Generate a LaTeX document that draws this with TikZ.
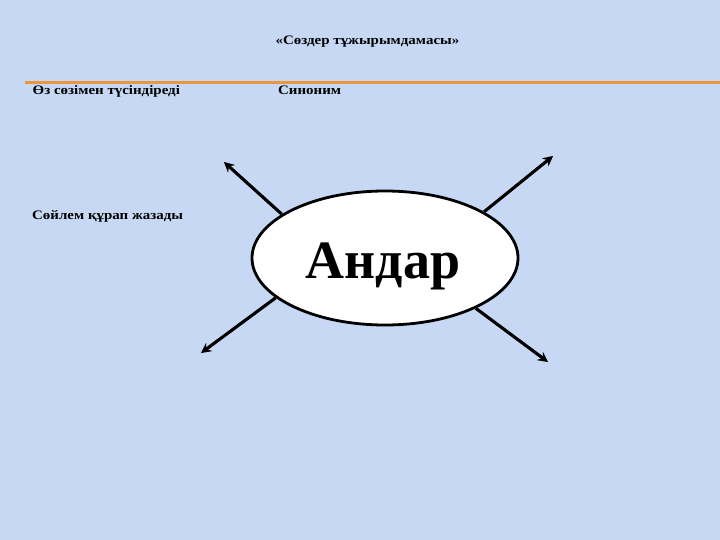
\documentclass[tikz,border=0pt]{standalone}
\usepackage{fontspec}
\usepackage{graphicx}
\setmainfont{Liberation Serif}
\usetikzlibrary{shapes.geometric,arrows.meta,calc}
\definecolor{bgblue}{RGB}{199,216,244}
\definecolor{lineorange}{RGB}{235,150,60}
\definecolor{shadowgray}{RGB}{120,120,125}
\pgfdeclarehorizontalshading{orangerule}{100bp}{color(0bp)=(bgblue); color(4bp)=(lineorange); color(92bp)=(lineorange); color(100bp)=(lineorange!45!bgblue)}
\newcommand{\widetext}[1]{\scalebox{1.15}[1]{#1}}
\tikzset{
  lbl/.style={font=\fontsize{13}{15}\selectfont\bfseries, inner sep=0pt, anchor=base west},
  arr/.style={line width=3pt, -{Stealth[length=10pt,width=10pt,inset=3.5pt]}, black},
  arrshadow/.style={line width=3pt, -{Stealth[length=10pt,width=10pt,inset=3.5pt]}, draw=shadowgray, fill=shadowgray},
}
\begin{document}
\begin{tikzpicture}[x=1pt,y=-1pt]
\fill[bgblue] (0,0) rectangle (720,540);
\useasboundingbox (0,0) rectangle (720,540);
% orange rule
\shade[shading=orangerule] (25,81.8) rectangle (720,83.6);
% texts
\node[lbl, anchor=base] (title) at (367.5,44.5) {\widetext{«Сөздер тұжырымдамасы»}};
\node[lbl] (t1) at (32.5,94.5) {\widetext{Өз сөзімен түсіндіреді}};
\node[lbl] (t2) at (278,94.5) {\widetext{Синоним}};
\node[lbl] (t3) at (32,219.5) {\widetext{Сөйлем құрап жазады}};
% central ellipse
\node[ellipse, draw=black, line width=2.8pt, fill=white, minimum width=266pt, minimum height=134pt, inner sep=0pt] (c) at (385,258) {};
\node[font=\fontsize{54}{60}\selectfont\bfseries, inner sep=0pt] (w) at (383,266) {Андар};
% arrow ends
\coordinate (tl) at (224,162);
\coordinate (tr) at (553,156);
\coordinate (bl) at (201,353);
\coordinate (br) at (548,362);
% shadows
\begin{scope}[shift={(2.5,2.5)}]
\draw[arrshadow] (c.157.6) -- (tl);
\draw[arrshadow] (c.25.8) -- (tr);
\draw[arrshadow] (c.200.9) -- (bl);
\draw[arrshadow] (c.-29.2) -- (br);
\end{scope}
\draw[arr] (c.157.6) -- (tl);
\draw[arr] (c.25.8) -- (tr);
\draw[arr] (c.200.9) -- (bl);
\draw[arr] (c.-29.2) -- (br);
\end{tikzpicture}
\end{document}
